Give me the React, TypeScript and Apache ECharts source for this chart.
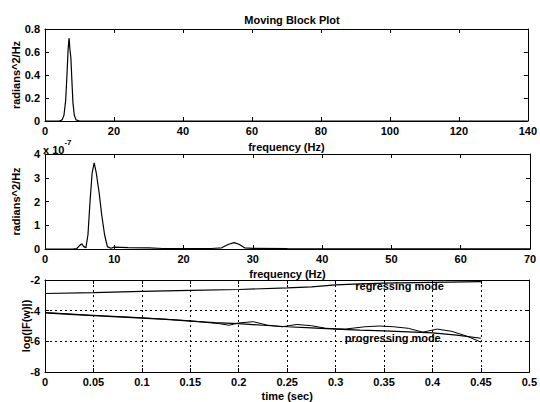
import React, { useEffect, useRef } from "react";
import * as echarts from "echarts";

// Upper panel: power spectral density, radians^2/Hz
const psdFreqA = [0, 4, 4.5, 5, 5.5, 6, 6.4, 6.7, 6.9, 7.0, 7.2, 7.5, 7.8, 8.1, 8.5, 9, 10, 140];
const psdValA = [0, 0, 0.003, 0.012, 0.05, 0.18, 0.42, 0.62, 0.7, 0.72, 0.63, 0.55, 0.35, 0.16, 0.05, 0.01, 0, 0];

// Middle panel: power spectral density, in units of 1e-7 radians^2/Hz
const psdFreqB = [0, 4, 4.6, 5.0, 5.3, 5.6, 5.9, 6.2, 6.5, 6.8, 7.1, 7.4, 7.8, 8.2, 8.6, 9.0, 9.5, 10, 12, 15, 17, 20, 24, 25.5, 26.5, 27.3, 28, 28.8, 30, 35, 70];
const psdValB = [0, 0, 0.02, 0.15, 0.22, 0.1, 0.05, 0.6, 2.0, 3.2, 3.63, 3.2, 2.4, 1.4, 0.6, 0.1, 0.03, 0.08, 0.06, 0.05, 0.02, 0.02, 0.02, 0.05, 0.2, 0.27, 0.2, 0.05, 0.03, 0.02, 0.01];

// Lower panel: log magnitude of the two travelling modes over time
const regTime = [0, 0.05, 0.1, 0.15, 0.2, 0.25, 0.275, 0.3, 0.325, 0.35, 0.4, 0.45];
const regLog = [-2.88, -2.82, -2.74, -2.68, -2.62, -2.52, -2.45, -2.32, -2.25, -2.2, -2.15, -2.1];

const progTime = [0, 0.025, 0.05, 0.075, 0.1, 0.125, 0.15, 0.175, 0.2, 0.225, 0.25, 0.275, 0.3, 0.325, 0.35, 0.375, 0.4, 0.425, 0.45];
const progLog = [-4.15, -4.24, -4.33, -4.4, -4.48, -4.57, -4.68, -4.78, -4.85, -4.95, -5.05, -5.12, -5.2, -5.27, -5.32, -5.38, -5.45, -5.6, -5.8];

const progFitTime = [0, 0.05, 0.1, 0.15, 0.18, 0.19, 0.2, 0.215, 0.23, 0.245, 0.26, 0.275, 0.29, 0.31, 0.33, 0.345, 0.36, 0.375, 0.39, 0.405, 0.42, 0.435, 0.45];
const progFitLog = [-4.12, -4.3, -4.46, -4.66, -4.85, -4.95, -4.8, -4.72, -4.95, -5.05, -4.9, -4.98, -5.15, -5.2, -5.05, -5.0, -5.05, -5.15, -5.4, -5.2, -5.35, -5.65, -6.05];

const regLabel = { text: "regressing mode", t: 0.366, v: -2.42 };
const progLabel = { text: "progressing mode", t: 0.359, v: -5.76 };

const FONT = "'Liberation Sans', Arial, sans-serif";
const INK = "#000";

const pairs = (xs: number[], ys: number[]) => xs.map((x, i) => [x, ys[i]]);

function axisPair(
  grid: number,
  dim: "x" | "y",
  min: number,
  max: number,
  interval: number,
  name: string,
  nameGap: number,
  dotted: boolean
) {
  const common = {
    type: "value",
    gridIndex: grid,
    min,
    max,
    interval,
    axisLine: { show: true, onZero: false, lineStyle: { color: INK, width: 1 } },
    axisTick: { show: true, inside: true, length: 4, lineStyle: { color: INK } },
  };
  const main: any = {
    ...common,
    position: dim === "x" ? "bottom" : "left",
    axisLabel: {
      show: true,
      color: INK,
      fontFamily: FONT,
      fontSize: 11,
      fontWeight: "bold",
      margin: dim === "x" ? 4 : 5,
    },
    splitLine: {
      show: dotted,
      lineStyle: { color: INK, type: [2, 3], width: 1 },
    },
    name,
    nameLocation: "middle",
    nameGap,
    nameMoveOverlap: false,
    nameTextStyle: { color: INK, fontFamily: FONT, fontSize: 11, fontWeight: "bold" },
  };
  if (dim === "y") main.nameRotate = 90;
  const mirror: any = {
    ...common,
    position: dim === "x" ? "top" : "right",
    axisLabel: { show: false },
    splitLine: { show: false },
  };
  return [main, mirror];
}

export default function App() {
  const ref = useRef<HTMLDivElement>(null);

  useEffect(() => {
    if (!ref.current) return;
    const chart = echarts.init(ref.current, undefined, { renderer: "svg" });

    const xAxes = [
      ...axisPair(0, "x", 0, 140, 20, "frequency (Hz)", 20, false),
      ...axisPair(1, "x", 0, 70, 10, "frequency (Hz)", 19, false),
      ...axisPair(2, "x", 0, 0.5, 0.05, "time (sec)", 18, true),
    ];
    const yAxes = [
      ...axisPair(0, "y", 0, 0.8, 0.2, "radians^2/Hz", 24, false),
      ...axisPair(1, "y", 0, 4, 1, "radians^2/Hz", 24, false),
      ...axisPair(2, "y", -8, -2, 2, "log(|F(w)|)", 14, true),
    ];

    const lineStyle = { color: INK, width: 1.2 };
    const base = { type: "line", showSymbol: false, symbol: "none", lineStyle, silent: true };

    const textLabel = (t: string) => ({
      show: true,
      position: "inside",
      formatter: t,
      color: INK,
      fontFamily: FONT,
      fontSize: 11,
      fontWeight: "bold",
    });

    chart.setOption({
      animation: false,
      backgroundColor: "#fff",
      title: {
        text: "Moving Block Plot",
        left: 287,
        top: 9,
        textAlign: "center",
        textStyle: { color: INK, fontFamily: FONT, fontSize: 11, fontWeight: "bold" },
      },
      grid: [
        { left: 45, right: 10, top: 29, height: 92 },
        { left: 45, right: 10, top: 154, height: 95 },
        { left: 45, right: 10, top: 280, height: 93 },
      ],
      xAxis: xAxes,
      yAxis: yAxes,
      graphic: [
        {
          type: "text",
          left: 43,
          top: 138,
          style: {
            text: "{a|x 10}{b|-7}",
            rich: {
              a: { fontFamily: FONT, fontSize: 11, fontWeight: "bold", fill: INK, padding: [6, 0, 0, 0] },
              b: { fontFamily: FONT, fontSize: 8, fontWeight: "bold", fill: INK, verticalAlign: "top" },
            },
          },
        },
      ],
      series: [
        { ...base, xAxisIndex: 0, yAxisIndex: 0, data: pairs(psdFreqA, psdValA) },
        { ...base, xAxisIndex: 2, yAxisIndex: 2, data: pairs(psdFreqB, psdValB) },
        {
          ...base,
          xAxisIndex: 4,
          yAxisIndex: 4,
          data: pairs(regTime, regLog),
          markPoint: {
            symbol: "circle",
            symbolSize: 1,
            itemStyle: { color: "transparent" },
            label: textLabel(regLabel.text),
            data: [{ coord: [regLabel.t, regLabel.v] }],
          },
        },
        {
          ...base,
          xAxisIndex: 4,
          yAxisIndex: 4,
          data: pairs(progTime, progLog),
          markPoint: {
            symbol: "circle",
            symbolSize: 1,
            itemStyle: { color: "transparent" },
            label: textLabel(progLabel.text),
            data: [{ coord: [progLabel.t, progLabel.v] }],
          },
        },
        { ...base, xAxisIndex: 4, yAxisIndex: 4, lineStyle: { color: INK, width: 1 }, data: pairs(progFitTime, progFitLog) },
      ],
    });

    return () => chart.dispose();
  }, []);

  return (
    <div
      ref={ref}
      style={{ position: "absolute", left: 0, top: 0, width: 540, height: 402, background: "#fff" }}
    />
  );
}
